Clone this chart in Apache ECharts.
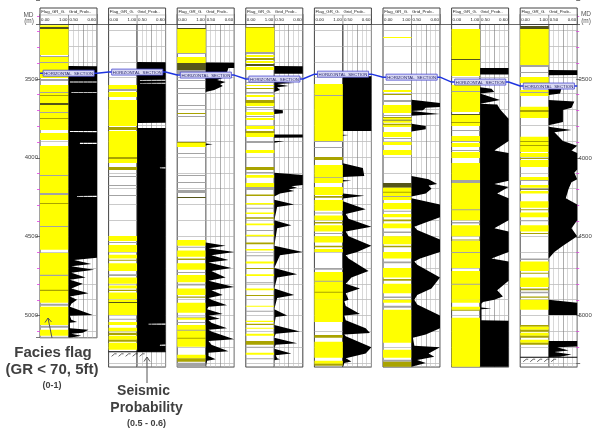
<!DOCTYPE html>
<html>
<head>
<meta charset="utf-8">
<script src="https://cdn.jsdelivr.net/npm/echarts@6/dist/echarts.min.js"></script>
<style>html,body{margin:0;padding:0;background:#fff}#chart{width:594px;height:428px}</style>
</head>
<body>
<div id="chart"></div>
<script>
/* Puits : drapeau de faciès (GR < 70) + probabilité sismique, 8 puits côte à côte */

// profondeur de fond de chaque panneau, section horizontale, TD hachurée
var wellBottom = [5140, 5325, 5325, 5325, 5325, 5325, 5325, 5325];
var horizMD = [3472, 3465, 3484, 3509, 3478, 3497, 3528, 3553];
var tdMD = [null, 5232, null, null, null, null, null, 5266];
var mdTicks = [3500, 4000, 4500, 5000];

// faciès : [toit, base, code]  1 jaune, 2 olive, 3 gris, 4 sombre
var f1 = [[3169,3181,1],[3181,3194,4],[3194,3358,1],[3364,3370,3],[3370,3452,1],[3402,3408,3],[3452,3502,1],[3509,3521,3],
  [3547,3830,1],[3591,3597,3],[3610,3616,2],[3660,3673,4],[3717,3723,3],[3754,3761,2],[3849,3893,1],[3931,4586,1],[4114,4120,3],
  [4227,4240,3],[4290,4296,2],[4435,4441,3],[4605,4920,1],[4743,4750,3],[4838,4845,2],[4926,4939,3],[4945,5059,1],[5065,5077,3],
  [5090,5128,1],[5134,5140,3]];
var f2 = [[3547,3572,1],[3572,3584,3],[3591,3622,1],[3641,3805,1],[3811,3830,2],[3836,4000,1],[4000,4013,2],[4013,4038,1],
  [4063,4082,2],[4120,4126,3],[4177,4183,3],[4240,4246,3],[4498,4530,1],[4536,4542,3],[4555,4600,1],[4617,4640,1],[4649,4655,2],
  [4670,4720,1],[4740,4750,3],[4760,4800,1],[4810,4830,1],[4838,4845,2],[4855,4895,1],[4901,4996,1],[4914,4920,4],[5021,5027,3],
  [5040,5059,1],[5077,5099,1],[5109,5122,2],[5128,5153,1],[5153,5166,2],[5172,5216,1]];
var f3 = [[3187,3194,4],[3194,3345,1],[3345,3351,3],[3370,3408,1],[3408,3452,4],[3452,3477,3],[3515,3521,3],[3565,3571,3],
  [3597,3603,3],[3673,3679,3],[3723,3729,2],[3742,3748,3],[3906,3912,2],[3912,3937,1],[3975,3981,3],[4114,4120,3],[4158,4164,3],
  [4208,4227,3],[4252,4258,4],[4523,4560,1],[4567,4573,3],[4590,4630,1],[4640,4650,2],[4670,4712,1],[4725,4731,3],[4745,4790,1],
  [4800,4810,3],[4830,4870,1],[4880,4888,2],[4920,4983,1],[5008,5014,3],[5014,5027,1],[5040,5046,3],[5059,5197,1],[5090,5096,3],
  [5140,5146,2],[5248,5270,1],[5270,5292,2],[5298,5323,3]];
var f4 = [[3181,3187,2],[3187,3339,1],[3339,3351,3],[3358,3370,1],[3376,3389,2],[3395,3408,1],[3414,3427,4],[3433,3452,1],
  [3528,3534,3],[3547,3553,1],[3565,3572,2],[3591,3597,3],[3610,3622,1],[3641,3660,2],[3660,3679,1],[3685,3691,3],[3717,3736,1],
  [3742,3748,3],[3754,3767,1],[3805,3824,1],[3836,3849,2],[3849,3874,1],[3899,3912,3],[3956,3975,1],[4063,4082,2],[4095,4101,3],
  [4114,4132,1],[4164,4189,1],[4189,4208,3],[4237,4246,2],[4290,4300,1],[4320,4326,3],[4350,4360,1],[4380,4390,2],[4420,4430,1],
  [4460,4466,3],[4490,4500,1],[4540,4550,2],[4580,4590,1],[4620,4626,3],[4660,4672,1],[4700,4706,2],[4740,4750,1],[4790,4796,3],
  [4830,4840,1],[4870,4876,2],[4939,4945,1],[4970,4976,3],[5033,5040,1],[5052,5059,2],[5077,5083,1],[5115,5128,1],[5160,5185,2],
  [5197,5203,3],[5235,5248,1],[5270,5276,3]];
var f5 = [[3540,3899,1],[3610,3616,3],[3899,3906,3],[3937,3943,3],[4000,4019,2],[4051,4126,1],[4126,4132,3],[4132,4164,1],
  [4189,4240,1],[4246,4258,2],[4271,4340,1],[4350,4356,3],[4370,4400,1],[4410,4420,2],[4430,4470,1],[4480,4486,3],[4500,4540,1],
  [4560,4570,2],[4580,4600,1],[4700,4712,3],[4725,4900,1],[4780,4786,3],[4850,4856,2],[4901,5040,1],[5122,5140,2],[5166,5266,1],
  [5285,5304,1],[5304,5316,2]];
var f6 = [[3244,3250,1],[3540,3547,3],[3578,3590,1],[3603,3610,2],[3641,3654,3],[3673,3723,1],[3736,3742,3],[3748,3755,2],
  [3755,3765,1],[3765,3772,4],[3772,3785,1],[3790,3800,2],[3800,3811,1],[3843,3874,1],[3880,3887,3],[3906,3925,1],[3956,3988,1],
  [4164,4195,4],[4195,4271,1],[4220,4226,2],[4246,4252,3],[4290,4330,1],[4340,4346,3],[4360,4380,1],[4395,4405,2],[4420,4450,1],
  [4470,4480,3],[4500,4550,1],[4560,4570,2],[4600,4640,1],[4660,4670,3],[4700,4760,1],[4770,4780,2],[4800,4860,1],[4880,4890,3],
  [4901,4920,1],[4939,4951,3],[4964,5172,1],[5216,5266,1],[5279,5292,3],[5292,5323,2]];
var f7 = [[3194,3383,1],[3383,3389,4],[3389,3490,1],[3547,3641,1],[3585,3591,3],[3641,3717,1],[3729,3736,4],[3736,3780,1],
  [3780,3786,2],[3786,3805,1],[3830,3836,3],[3868,3899,1],[3899,3906,3],[3912,3937,1],[3956,3962,3],[3969,4006,1],[4038,4145,1],
  [4145,4164,3],[4164,4271,1],[4271,4400,1],[4330,4336,3],[4410,4420,3],[4430,4500,1],[4520,4526,2],[4530,4700,1],[4600,4606,3],
  [4720,4900,1],[4800,4806,3],[4901,4920,1],[4945,4964,1],[4964,4970,2],[5014,5323,1]];
var f8 = [[3175,3194,4],[3194,3421,1],[3421,3433,3],[3465,3471,3],[3496,3534,1],[3578,3616,1],[3590,3597,3],[3684,3704,1],
  [3704,3717,2],[3717,3754,1],[3873,3900,1],[3900,3906,2],[3906,3925,1],[3925,3931,2],[3931,3969,1],[3975,4000,1],[4006,4013,2],
  [4019,4063,1],[4126,4145,1],[4145,4151,3],[4177,4195,1],[4200,4206,4],[4215,4230,1],[4280,4320,1],[4330,4336,2],[4350,4380,1],
  [4400,4406,3],[4430,4470,1],[4480,4486,2],[4640,4650,3],[4660,4720,1],[4730,4736,2],[4760,4820,1],[4830,4840,2],[4850,4860,3],
  [4880,4888,2],[4901,4964,1],[5059,5071,2],[5071,5090,1],[5090,5103,2],[5109,5128,1],[5128,5140,2],[5153,5172,1],[5172,5185,2]];

// probabilité sismique : profil [profondeur, valeur 0.50-0.60]
var s1 = [[3169,0.5],[3427,0.5],[3428,0.6],[3524,0.6],[3525,0.505],[3530,0.505],[3531,0.6],[3590,0.6],[3591,0.51],[3595,0.51],
  [3596,0.6],[3836,0.6],[3837,0.505],[3843,0.505],[3844,0.6],[3910,0.6],[3911,0.54],[3918,0.54],[3919,0.6],[4245,0.6],[4246,0.53],
  [4251,0.53],[4252,0.6],[4636,0.6],[4650,0.52],[4675,0.58],[4690,0.51],[4712,0.59],[4730,0.51],[4760,0.56],[4775,0.505],
  [4800,0.55],[4830,0.51],[4860,0.57],[4880,0.505],[4901,0.53],[4926,0.51],[4945,0.505],[4996,0.585],[5002,0.505],[5027,0.51],
  [5040,0.53],[5046,0.505],[5080,0.505],[5090,0.57],[5109,0.55],[5115,0.51],[5128,0.545],[5135,0.52],[5140,0.5]];
var s2 = [[3169,0.5],[3402,0.5],[3403,0.6],[3514,0.6],[3515,0.51],[3519,0.51],[3520,0.6],[3533,0.6],[3534,0.51],[3537,0.51],
  [3538,0.6],[3785,0.6],[3786,0.503],[3817,0.503],[3818,0.6],[4065,0.6],[4066,0.58],[4072,0.58],[4073,0.6],[5051,0.6],[5052,0.54],
  [5057,0.54],[5058,0.6],[5183,0.6],[5184,0.58],[5190,0.58],[5191,0.6],[5229,0.6],[5230,0.5]];
var s3 = [[3169,0.5],[3405,0.5],[3406,0.6],[3439,0.6],[3440,0.58],[3465,0.575],[3466,0.5],[3502,0.5],[3503,0.56],[3515,0.54],
  [3528,0.57],[3540,0.55],[3553,0.56],[3578,0.53],[3590,0.5],[3915,0.5],[3920,0.525],[3925,0.505],[3930,0.5],[4540,0.5],
  [4560,0.57],[4575,0.51],[4600,0.6],[4620,0.52],[4650,0.58],[4665,0.51],[4700,0.59],[4720,0.52],[4760,0.57],[4780,0.51],
  [4820,0.6],[4840,0.52],[4870,0.56],[4890,0.51],[4901,0.52],[4935,0.575],[4945,0.51],[4960,0.505],[4990,0.56],[5000,0.51],
  [5020,0.55],[5030,0.51],[5045,0.52],[5080,0.575],[5090,0.51],[5100,0.52],[5150,0.6],[5160,0.51],[5185,0.52],[5225,0.58],
  [5235,0.51],[5255,0.51],[5275,0.535],[5285,0.505],[5323,0.5]];
var s4 = [[3169,0.5],[3427,0.5],[3428,0.6],[3475,0.6],[3476,0.5],[3521,0.5],[3522,0.56],[3528,0.53],[3534,0.57],[3540,0.51],
  [3553,0.55],[3560,0.51],[3578,0.52],[3590,0.5],[3700,0.5],[3705,0.53],[3725,0.53],[3730,0.5],[3858,0.5],[3859,0.6],[3878,0.6],
  [3879,0.5],[3899,0.5],[3900,0.535],[3910,0.5],[4100,0.5],[4114,0.6],[4177,0.6],[4185,0.56],[4195,0.58],[4205,0.55],[4215,0.57],
  [4230,0.52],[4250,0.5],[4270,0.5],[4300,0.57],[4315,0.51],[4400,0.5],[4430,0.56],[4450,0.51],[4560,0.5],[4600,0.6],[4620,0.52],
  [4700,0.5],[4740,0.58],[4760,0.51],[4830,0.5],[4870,0.57],[4890,0.51],[4960,0.5],[5000,0.545],[5010,0.505],[5060,0.5],
  [5100,0.59],[5115,0.505],[5140,0.5],[5175,0.58],[5185,0.505],[5210,0.5],[5240,0.56],[5250,0.505],[5270,0.51],[5276,0.52],
  [5282,0.5],[5323,0.5]];
var s5 = [[3169,0.5],[3490,0.5],[3491,0.6],[3836,0.6],[3837,0.5],[3860,0.5],[3861,0.52],[3866,0.5],[4040,0.5],[4070,0.57],
  [4120,0.575],[4126,0.5],[4145,0.5],[4150,0.53],[4155,0.5],[4230,0.5],[4245,0.575],[4262,0.5],[4280,0.5],[4330,0.58],[4360,0.51],
  [4390,0.52],[4440,0.6],[4470,0.51],[4500,0.52],[4560,0.6],[4600,0.55],[4620,0.51],[4640,0.52],[4720,0.59],[4760,0.53],
  [4800,0.51],[4830,0.56],[4860,0.51],[4901,0.52],[4910,0.505],[4940,0.51],[4990,0.56],[5000,0.505],[5030,0.51],[5080,0.58],
  [5110,0.595],[5120,0.505],[5130,0.51],[5200,0.6],[5240,0.58],[5270,0.51],[5290,0.53],[5300,0.505],[5323,0.5]];
var s6 = [[3169,0.5],[3640,0.5],[3660,0.6],[3685,0.6],[3690,0.55],[3705,0.54],[3710,0.5],[3730,0.6],[3740,0.5],[3790,0.5],
  [3805,0.55],[3825,0.55],[3840,0.5],[4120,0.5],[4140,0.56],[4170,0.59],[4180,0.56],[4200,0.57],[4230,0.55],[4250,0.5],[4260,0.5],
  [4300,0.6],[4380,0.6],[4420,0.54],[4440,0.51],[4460,0.52],[4520,0.6],[4600,0.6],[4640,0.53],[4660,0.51],[4680,0.52],[4760,0.6],
  [4830,0.57],[4870,0.52],[4900,0.51],[4930,0.52],[5000,0.6],[5080,0.6],[5120,0.55],[5140,0.505],[5190,0.51],[5200,0.6],
  [5240,0.56],[5260,0.58],[5280,0.52],[5300,0.55],[5323,0.5]];
var s7 = [[3169,0.5],[3439,0.5],[3440,0.6],[3480,0.6],[3481,0.5],[3560,0.5],[3570,0.54],[3590,0.55],[3600,0.5],[3641,0.57],
  [3665,0.5],[3670,0.56],[3700,0.57],[3720,0.58],[3760,0.6],[3900,0.6],[3960,0.55],[3975,0.6],[4150,0.6],[4170,0.55],[4190,0.6],
  [4230,0.56],[4260,0.6],[4400,0.6],[4450,0.55],[4470,0.6],[4600,0.6],[4640,0.54],[4660,0.6],[4780,0.6],[4840,0.56],[4880,0.58],
  [4900,0.55],[4915,0.51],[4925,0.505],[4950,0.505],[4955,0.54],[4960,0.505],[5030,0.505],[5033,0.6],[5323,0.6]];
var s8 = [[3169,0.5],[3452,0.5],[3453,0.6],[3484,0.6],[3485,0.5],[3560,0.5],[3565,0.545],[3600,0.54],[3610,0.5],[3641,0.5],
  [3650,0.59],[3690,0.58],[3704,0.55],[3780,0.55],[3800,0.5],[3810,0.5],[3830,0.58],[3845,0.52],[3900,0.55],[3930,0.6],[3960,0.58],
  [3975,0.6],[4080,0.6],[4100,0.59],[4140,0.6],[4160,0.58],[4200,0.57],[4260,0.56],[4300,0.6],[4400,0.6],[4450,0.58],[4500,0.6],
  [4560,0.55],[4600,0.52],[4640,0.5],[4900,0.5],[4920,0.6],[4996,0.6],[4997,0.5],[5160,0.5],[5161,0.6],[5195,0.6],[5200,0.53],
  [5220,0.57],[5230,0.52],[5245,0.58],[5260,0.54],[5262,0.5]];

var facies = [f1, f2, f3, f4, f5, f6, f7, f8];
var seismic = [s1, s2, s3, s4, s5, s6, s7, s8];

var FACIES_COLORS = { 1: "#ffff00", 2: "#a9a300", 3: "#a3a3a3", 4: "#55551a" };
var FONT = "Liberation Sans, Arial, sans-serif";

// mise en page (pixels)
var PX = 0.1586, Y_TOP = 24.5, MD_TOP = 3165;
var X0 = 40, STEP = 68.6, TW = 28.5;
function yOf(md) { return Y_TOP + (md - MD_TOP) * PX; }

var chart = echarts.init(document.getElementById("chart"), null, { renderer: "canvas" });

function renderFacies(params, api) {
  var a = api.coord([0, api.value(0)]);
  var b = api.coord([1, api.value(1)]);
  return {
    type: "rect",
    shape: { x: a[0], y: a[1], width: b[0] - a[0], height: Math.max(1, b[1] - a[1]) },
    style: { fill: FACIES_COLORS[api.value(2)] }
  };
}

function renderSeis(params, api) {
  if (params.dataIndexInside !== 0) return null;
  var n = params.dataInsideLength;
  var pts = [api.coord([0.5, api.value(0, 0)])];
  for (var j = 0; j < n; j++) pts.push(api.coord([api.value(1, j), api.value(0, j)]));
  pts.push(api.coord([0.5, api.value(0, n - 1)]));
  return { type: "polygon", shape: { points: pts }, style: { fill: "#000" } };
}

function renderLabel(params, api) {
  var a = api.coord([api.value(0) + 0.045, api.value(1)]);
  var b = api.coord([api.value(0) + 0.79, api.value(1)]);
  return {
    type: "group",
    children: [
      { type: "rect", shape: { x: a[0], y: a[1] - 3, width: b[0] - a[0], height: 6 },
        style: { fill: "#dadaf4", stroke: "#4a4ad0", lineWidth: 0.8 } },
      { type: "text", style: { x: (a[0] + b[0]) / 2, y: a[1] + 0.3, text: "HORIZONTAL  SECTION",
        fill: "#1c1c66", font: "4.3px " + FONT, align: "center", verticalAlign: "middle" } }
    ]
  };
}

function renderTD(params, api) {
  var a = api.coord([api.value(0), api.value(1)]);
  var b = api.coord([api.value(0) + 0.831, api.value(1)]);
  var kids = [{ type: "rect", shape: { x: a[0], y: a[1] - 1, width: b[0] - a[0], height: 1 }, style: { fill: "#000" } }];
  for (var x = a[0] + 3; x < b[0] - 20; x += 7) {
    kids.push({ type: "polyline", shape: { points: [[x, a[1] + 4], [x + 3, a[1] + 1.5], [x + 5, a[1] + 1.5]] },
      style: { stroke: "#222", lineWidth: 0.7, fill: null } });
  }
  return { type: "group", children: kids };
}

var grids = [], xAxes = [], yAxes = [], series = [];
var vColors = ["#bdbdbd", "#bdbdbd", "#bdbdbd", "#777", "#bdbdbd", "#bdbdbd", "#bdbdbd"];

for (var i = 0; i < 8; i++) {
  var left = X0 + i * STEP;
  var h = (wellBottom[i] - 3100) * PX;
  [0, 1].forEach(function (k) {
    grids.push({ left: left + k * TW, top: yOf(3100), width: TW, height: h, show: true,
      borderColor: "#444", borderWidth: 1, backgroundColor: "transparent" });
    var gi = grids.length - 1;
    xAxes.push(k === 0
      ? { gridIndex: gi, type: "value", min: 0, max: 1, show: false }
      : { gridIndex: gi, type: "value", min: 0.5, max: 0.6, interval: 0.1 / 6,
          axisLine: { show: false }, axisTick: { show: false }, axisLabel: { show: false },
          splitLine: { show: true, lineStyle: { color: vColors, width: 0.6 } } });
    yAxes.push({ gridIndex: gi, type: "value", inverse: true, min: 3100, max: wellBottom[i], interval: 100,
      axisLine: { show: false }, axisTick: { show: false }, axisLabel: { show: false },
      splitLine: { show: true, lineStyle: { color: "#a6a6a6", width: 0.6 } } });
  });
  series.push({ type: "custom", xAxisIndex: 2 * i, yAxisIndex: 2 * i, renderItem: renderFacies,
    data: facies[i], encode: { y: [0, 1] }, clip: true, silent: true });
  series.push({ type: "custom", xAxisIndex: 2 * i + 1, yAxisIndex: 2 * i + 1, renderItem: renderSeis,
    data: seismic[i], encode: { x: 1, y: 0 }, clip: true, silent: true });
}

// axes MD gauche / droite
function mdAxis(gi, pos, max) {
  return { gridIndex: gi, type: "value", inverse: true, position: pos, min: 3000, max: max, interval: 500,
    axisLine: { show: false }, splitLine: { show: false },
    axisTick: { show: true, length: 4, lineStyle: { color: "#555", width: 0.8 } },
    minorTick: { show: true, splitNumber: 5, length: 3, lineStyle: { color: "#e040e0", width: 0.8 } },
    axisLabel: { fontSize: 6, color: "#444", margin: 2, fontFamily: FONT, showMinLabel: false, showMaxLabel: false,
      formatter: function (v) { return mdTicks.indexOf(v) >= 0 ? String(v) : ""; } } };
}
grids.push({ left: X0, top: yOf(3000), width: 1, height: (wellBottom[0] - 3000) * PX });
xAxes.push({ gridIndex: grids.length - 1, type: "value", show: false });
yAxes.push(mdAxis(grids.length - 1, "left", wellBottom[0]));
grids.push({ left: X0 + 7 * STEP + 2 * TW - 1, top: yOf(3000), width: 1, height: (5300 - 3000) * PX });
xAxes.push({ gridIndex: grids.length - 1, type: "value", show: false });
yAxes.push(mdAxis(grids.length - 1, "right", 5300));

// grille de superposition (section horizontale, TD)
grids.push({ left: X0, top: yOf(3100), width: 8 * STEP, height: (5325 - 3100) * PX });
var og = grids.length - 1;
xAxes.push({ gridIndex: og, type: "value", min: 0, max: 8, show: false });
yAxes.push({ gridIndex: og, type: "value", inverse: true, min: 3100, max: 5325, show: false });
var ox = xAxes.length - 1, oy = yAxes.length - 1;

var blue = [];
horizMD.forEach(function (md, k) { blue.push([k, md]); blue.push([k + 0.831, md]); });
series.push({ type: "line", xAxisIndex: ox, yAxisIndex: oy, data: blue, symbol: "none", silent: true,
  lineStyle: { color: "#1f35e0", width: 1.5 }, z: 5 });
series.push({ type: "custom", xAxisIndex: ox, yAxisIndex: oy, renderItem: renderLabel, silent: true, z: 6,
  data: horizMD.map(function (md, k) { return [k, md]; }) });
var tdData = [];
tdMD.forEach(function (md, k) { if (md) tdData.push([k, md]); });
series.push({ type: "custom", xAxisIndex: ox, yAxisIndex: oy, renderItem: renderTD, silent: true, z: 6, data: tdData });

// en-têtes et annotations
var g = [];
for (var w = 0; w < 8; w++) {
  var L = X0 + w * STEP;
  g.push({ type: "rect", z: 50, shape: { x: L, y: 8, width: 2 * TW, height: Y_TOP - 8 },
    style: { fill: "#fff", stroke: "#444", lineWidth: 1 } });
  g.push({ type: "line", z: 51, shape: { x1: L, y1: 15, x2: L + 2 * TW, y2: 15 }, style: { stroke: "#888", lineWidth: 0.5 } });
  g.push({ type: "line", z: 51, shape: { x1: L + TW, y1: 15, x2: L + TW, y2: Y_TOP }, style: { stroke: "#555", lineWidth: 0.6 } });
  g.push({ type: "text", z: 52, style: { x: L + 1.2, y: 11.6, text: "Flag_GR_G.", font: "4.3px " + FONT, fill: "#222", verticalAlign: "middle" } });
  g.push({ type: "text", z: 52, style: { x: L + TW + 0.5, y: 11.6, text: "Grid_Prob..", font: "4.3px " + FONT, fill: "#222", verticalAlign: "middle" } });
  g.push({ type: "text", z: 52, style: { x: L + 1, y: 19.5, text: "0.00", font: "4.4px " + FONT, fill: "#222", verticalAlign: "middle" } });
  g.push({ type: "text", z: 52, style: { x: L + TW - 1, y: 19.5, text: "1.00", font: "4.4px " + FONT, fill: "#222", align: "right", verticalAlign: "middle" } });
  g.push({ type: "text", z: 52, style: { x: L + TW + 1, y: 19.5, text: "0.50", font: "4.4px " + FONT, fill: "#222", verticalAlign: "middle" } });
  g.push({ type: "text", z: 52, style: { x: L + 2 * TW - 1, y: 19.5, text: "0.60", font: "4.4px " + FONT, fill: "#222", align: "right", verticalAlign: "middle" } });
}
g.push({ type: "line", z: 53, shape: { x1: 36, y1: Y_TOP, x2: 580, y2: Y_TOP }, style: { stroke: "#444", lineWidth: 0.8 } });
[[28.5, 15, "MD"], [29, 21.5, "(m)"], [586, 14, "MD"], [586, 21, "(m)"]].forEach(function (t) {
  g.push({ type: "text", z: 52, style: { x: t[0], y: t[1], text: t[2], font: "6.5px " + FONT, fill: "#555", align: "center", verticalAlign: "middle" } });
});
[[53, 353, "Facies flag", 15], [52, 370, "(GR < 70, 5ft)", 15], [52, 386, "(0-1)", 9],
 [143.5, 391.5, "Seismic", 14], [146.5, 408, "Probability", 14], [146.5, 424, "(0.5 - 0.6)", 9]].forEach(function (t) {
  g.push({ type: "text", z: 52, style: { x: t[0], y: t[1], text: t[2], font: "bold " + t[3] + "px " + FONT,
    fill: "#404040", align: "center", verticalAlign: "middle" } });
});
g.push({ type: "polyline", z: 52, shape: { points: [[52, 338], [48, 318]] }, style: { stroke: "#555", lineWidth: 1, fill: null } });
g.push({ type: "polyline", z: 52, shape: { points: [[45, 322.5], [48, 318], [51.5, 322]] }, style: { stroke: "#555", lineWidth: 1, fill: null } });
g.push({ type: "polyline", z: 52, shape: { points: [[147, 383], [147, 357]] }, style: { stroke: "#555", lineWidth: 1, fill: null } });
g.push({ type: "polyline", z: 52, shape: { points: [[144, 361.5], [147, 357], [150, 361.5]] }, style: { stroke: "#555", lineWidth: 1, fill: null } });

chart.setOption({
  animation: false,
  backgroundColor: "#fff",
  grid: grids,
  xAxis: xAxes,
  yAxis: yAxes,
  series: series,
  graphic: { elements: g }
});
</script>
</body>
</html>
